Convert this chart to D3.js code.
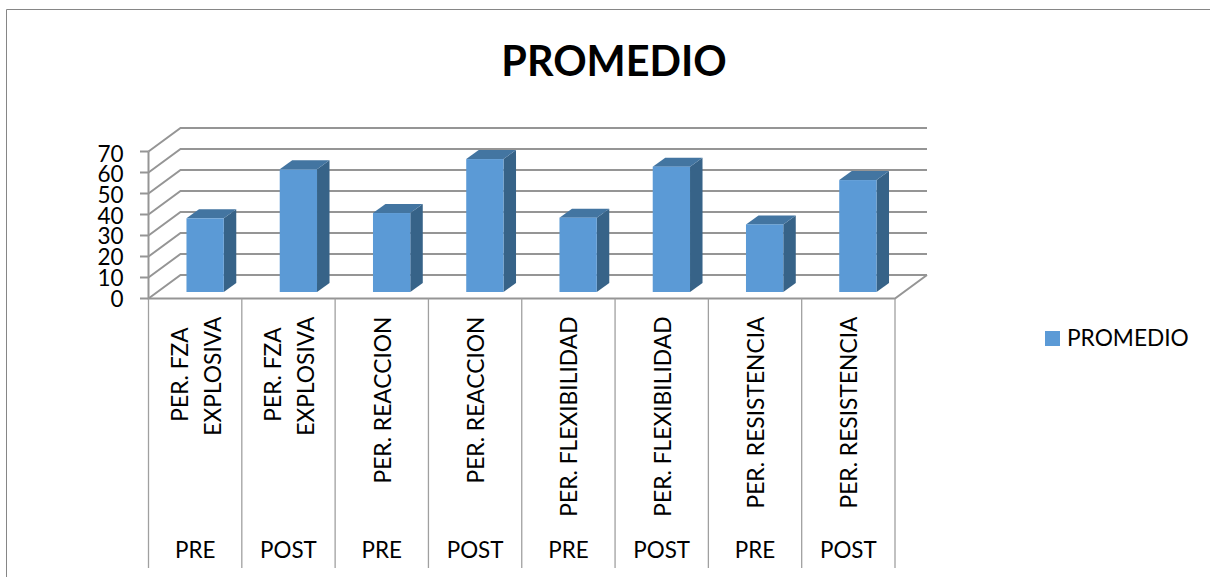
<!DOCTYPE html>
<html><head><meta charset="utf-8">
<script src="https://cdn.jsdelivr.net/npm/d3@7/dist/d3.min.js"></script>
<style>html,body{margin:0;padding:0;background:#fff}svg{display:block}text{font-family:Lato,"Open Sans",sans-serif;fill:#000}</style>
</head><body><svg id="c" width="1210" height="577"></svg>
<script>
const title = "PROMEDIO";
const seriesName = "PROMEDIO";
const categories = ["PER. FZA EXPLOSIVA|PRE","PER. FZA EXPLOSIVA|POST","PER. REACCION|PRE","PER. REACCION|POST","PER. FLEXIBILIDAD|PRE","PER. FLEXIBILIDAD|POST","PER. RESISTENCIA|PRE","PER. RESISTENCIA|POST"];
const labelLines = [["PER. FZA","EXPLOSIVA"],["PER. FZA","EXPLOSIVA"],["PER. REACCION"],["PER. REACCION"],["PER. FLEXIBILIDAD"],["PER. FLEXIBILIDAD"],["PER. RESISTENCIA"],["PER. RESISTENCIA"]];
const phases = ["PRE","POST","PRE","POST","PRE","POST","PRE","POST"];
const values = [35.1,58.4,37.6,63.3,35.4,59.7,32.2,53.3];
const yTicks = [0,10,20,30,40,50,60,70];

const svg = d3.select("#c");
const gray = "#959595";
const depth = {x:32, y:-23.5};
const barShift = {x:9.5, y:-6.5};
const barDepth = {x:12.5, y:-9};
const x = d3.scaleBand().domain(categories).range([149,895]).paddingInner(0.6).paddingOuter(0.3);
const edge = d3.scaleLinear().domain([0,8]).range([148.5,895]);
const y = d3.scaleLinear().domain([0,70]).range([298.5,151.5]);
const yLabel = d3.scaleLinear().domain([0,70]).range([306.5,161.5]);

// frame
svg.append("path").attr("d","M6.5,577V9.5H1210").attr("fill","none").attr("stroke","#868686").attr("stroke-width",1);

// walls
const grid = svg.append("g").attr("fill","none").attr("stroke",gray).attr("stroke-width",2);
yTicks.forEach(t=>{
  const yy=y(t);
  grid.append("path").attr("d",`M148.5,${yy}L${148.5+depth.x},${yy+depth.y}H${895+depth.x}`);
  grid.append("path").attr("d",`M148.5,${yy}H140`);
});
grid.append("path").attr("d",`M148.5,${y(70)}V${y(0)}H895L${895+depth.x},${y(0)+depth.y}`);
grid.selectAll(".sep").data(d3.range(9)).join("line").attr("class","sep")
  .attr("x1",d=>edge(d)).attr("x2",d=>edge(d)).attr("y1",y(0)).attr("y2",568).attr("stroke-width",1.3).attr("stroke","#a0a0a0");

// bars
const bars = svg.append("g").selectAll("g").data(categories.map((c,i)=>({c,v:values[i]}))).join("g");
const fx = d=>x(d.c)+barShift.x, bw=x.bandwidth();
const base = y(0)+barShift.y;
const top_ = d=>y(d.v)+barShift.y;
bars.append("path").attr("fill","#376388").attr("d",d=>{
  const X=fx(d)+bw;return `M${X},${top_(d)}l${barDepth.x},${barDepth.y}V${base+barDepth.y}L${X},${base}Z`;});
bars.append("path").attr("fill","#4375a1").attr("d",d=>{
  const X=fx(d);return `M${X},${top_(d)}l${barDepth.x},${barDepth.y}h${bw}l${-barDepth.x},${-barDepth.y}Z`;});
bars.append("rect").attr("fill","#5b9ad6").attr("x",fx).attr("width",bw).attr("y",top_).attr("height",d=>base-top_(d));

// y labels
svg.append("g").selectAll("text").data(yTicks).join("text")
  .attr("x",123.5).attr("y",d=>yLabel(d)).attr("text-anchor","end").attr("font-size",22.5).text(d=>d);

// category labels
categories.forEach((c,i)=>{
  const cx=(edge(i)+edge(i+1))/2;
  const lines=labelLines[i];
  lines.forEach((ln,j)=>{
    const two=lines.length>1;
    const px=cx+9+(two?(j===0?-16.35:16.35):0);
    svg.append("text").attr("transform",`translate(${px},${two&&j===0?374.5:316.5}) rotate(-90)`)
      .attr("text-anchor",two&&j===0?"middle":"end").attr("font-size",22.8).text(ln);
  });
  svg.append("text").attr("x",cx).attr("y",558).attr("text-anchor","middle").attr("font-size",22.4).text(phases[i]);
});

// title
svg.append("text").attr("x",614).attr("y",76).attr("text-anchor","middle").attr("font-size",41.4).attr("font-weight",700).text(title);

// legend
svg.append("rect").attr("x",1045).attr("y",331).attr("width",15).attr("height",15).attr("fill","#5b9ad6");
svg.append("text").attr("x",1067).attr("y",346).attr("font-size",22.7).text(seriesName);
</script></body></html>
